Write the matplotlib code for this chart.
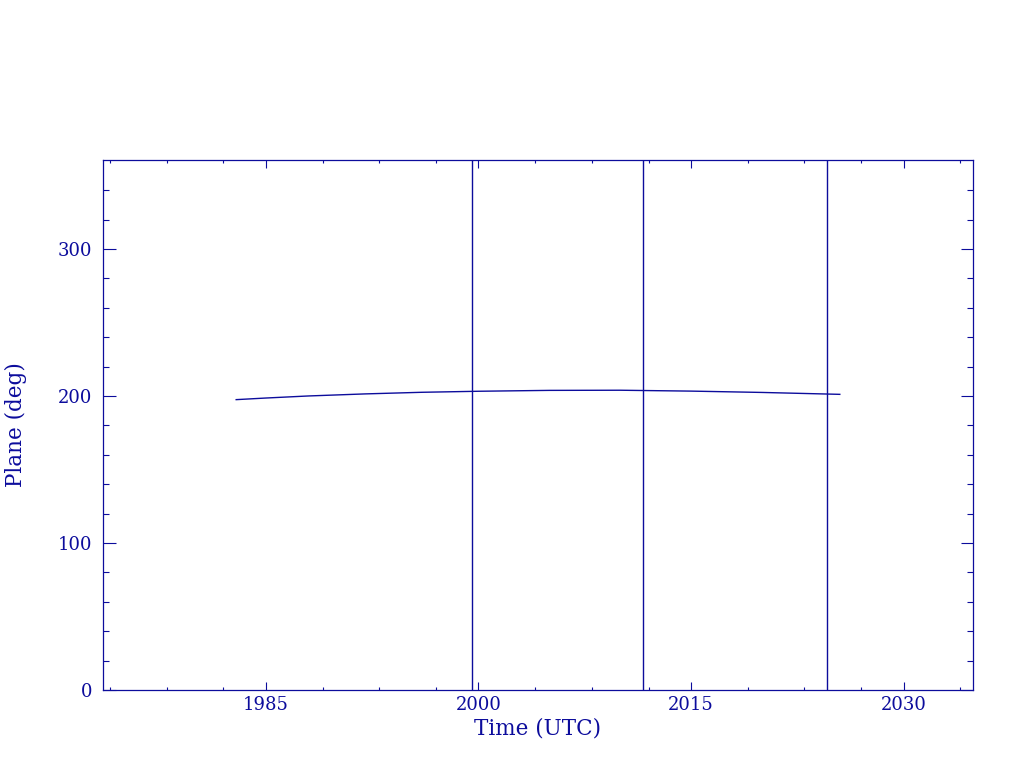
import matplotlib
matplotlib.use('Agg')
import matplotlib.pyplot as plt
from matplotlib.ticker import FixedLocator

# datos
years = [1982.9, 1985.0, 1988.0, 1992.0, 1996.0, 2000.0, 2005.0, 2010.0, 2015.0, 2020.0, 2025.5]
plane = [197.5, 198.6, 200.0, 201.4, 202.5, 203.2, 203.8, 203.9, 203.3, 202.4, 201.1]
event_years = [1999.55, 2011.58, 2024.59]

x_major = [1985, 2000, 2015, 2030]
x_minor = [y + d for y in [1970, 1985, 2000, 2015, 2030] for d in (4, 8, 12)]
y_major = [0, 100, 200, 300]
y_minor = list(range(20, 360, 20))

col = '#0c0c9c'
plt.rcParams['font.family'] = ['DejaVu Serif']

fig = plt.figure(figsize=(10.24, 7.68), dpi=100)
ax = fig.add_axes([103 / 1024, 1 - 690 / 768, 870 / 1024, 530 / 768])

ax.plot(years, plane, color=col, linewidth=1.0)
for ev in event_years:
    ax.axvline(ev, color=col, linewidth=1.0)

ax.set_xlim(1973.5, 2034.9)
ax.set_ylim(0, 360.5)

ax.xaxis.set_major_locator(FixedLocator(x_major))
ax.xaxis.set_minor_locator(FixedLocator(x_minor))
ax.yaxis.set_major_locator(FixedLocator(y_major))
ax.yaxis.set_minor_locator(FixedLocator(y_minor))

ax.tick_params(which='both', direction='in', top=True, right=True, colors=col, width=0.8, labelsize=13)
ax.tick_params(axis='x', which='major', length=6, pad=4)
ax.tick_params(axis='x', which='minor', length=2.5)
ax.tick_params(axis='y', which='major', length=9, pad=8)
ax.tick_params(axis='y', which='minor', length=4.5)

for s in ax.spines.values():
    s.set_color(col)
    s.set_linewidth(0.9)

ax.set_xlabel('Time (UTC)', color=col, fontsize=15.5, labelpad=3)
ax.set_ylabel('Plane (deg)', color=col, fontsize=15.5, labelpad=22)

plt.savefig('out.png', dpi=100)
